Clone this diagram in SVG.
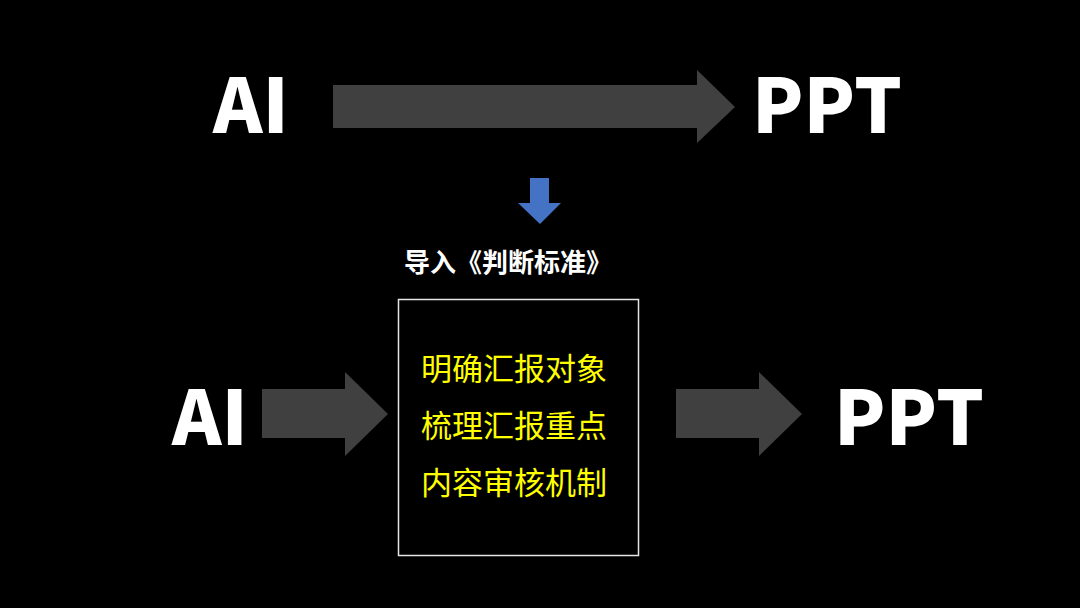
<svg xmlns="http://www.w3.org/2000/svg" width="1080" height="608" viewBox="0 0 1080 608">
<style>
.big{font-family:"Noto Sans CJK SC","Noto Sans",sans-serif;font-weight:900;fill:#fff;font-size:75px;text-anchor:middle}
.arr{fill:#404040}
.item{font-family:"Noto Sans CJK SC",sans-serif;font-size:31px;fill:#ffff00;text-anchor:middle;dominant-baseline:central}
.title{font-family:"Noto Sans CJK SC",sans-serif;font-weight:700;font-size:26px;fill:#fff;text-anchor:middle;dominant-baseline:central}
</style>
<rect width="1080" height="608" fill="#000"/>
<g id="top-ai"><text class="big" x="251" y="133">AI</text></g>
<g id="top-ppt"><text class="big" x="827" y="133">PPT</text></g>
<g id="bottom-ai"><text class="big" x="210" y="445">AI</text></g>
<g id="bottom-ppt"><text class="big" x="909" y="445">PPT</text></g>
<g id="title"><text class="title" x="508" y="260">导入《判断标准》</text></g>
<g id="box">
<rect x="398.5" y="299.5" width="240" height="256" fill="none" stroke="#e6e6e6" stroke-width="1.5"/>
<text class="item" x="514" y="366">明确汇报对象</text>
<text class="item" x="514" y="423">梳理汇报重点</text>
<text class="item" x="514" y="480">内容审核机制</text>
</g>
<g id="connectors">
<polygon class="arr" points="333,85 697,85 697,70 735,107 697,143 697,128 333,128"/>
<polygon points="530,178 549,178 549,203 561,203 540,224 518,203 530,203" fill="#4472c4"/>
<polygon class="arr" points="262,389 345,389 345,372 388,414 345,456 345,438 262,438"/>
<polygon class="arr" points="676,389 759,389 759,372 802,414 759,456 759,438 676,438"/>
</g>
</svg>
